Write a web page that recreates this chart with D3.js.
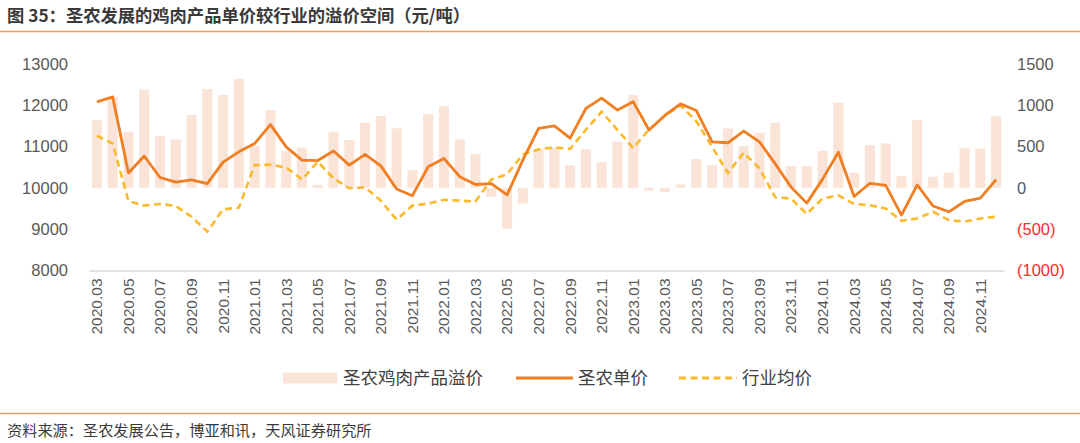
<!DOCTYPE html>
<html><head><meta charset="utf-8">
<script src="https://cdn.jsdelivr.net/npm/d3@7"></script>
<style>
body{margin:0;background:#fff;}
svg{display:block;}
</style></head>
<body>
<svg id="chart" width="1080" height="443"></svg>
<script>
const categories = ["2020.03","2020.04","2020.05","2020.06","2020.07","2020.08","2020.09","2020.10","2020.11","2020.12",
"2021.01","2021.02","2021.03","2021.04","2021.05","2021.06","2021.07","2021.08","2021.09","2021.10","2021.11","2021.12",
"2022.01","2022.02","2022.03","2022.04","2022.05","2022.06","2022.07","2022.08","2022.09","2022.10","2022.11","2022.12",
"2023.01","2023.02","2023.03","2023.04","2023.05","2023.06","2023.07","2023.08","2023.09","2023.10","2023.11","2023.12",
"2024.01","2024.02","2024.03","2024.04","2024.05","2024.06","2024.07","2024.08","2024.09","2024.10","2024.11","2024.12"];

const premium = [819,1102,678,1190,625,585,880,1194,1122,1318,508,940,440,488,36,678,577,787,870,720,214,892,
990,583,410,-109,-492,-190,464,486,274,468,313,557,1122,-36,-48,40,347,274,718,504,666,787,262,262,
448,1029,182,517,537,141,819,133,182,484,472,872];

const snPrice = [12080,12200,10360,10770,10250,10140,10190,10100,10620,10870,11070,11530,10990,10670,10660,10890,10550,10810,10530,9970,9810,10510,
10710,10270,10080,10100,9830,10670,11440,11500,11200,11920,12170,11880,12080,11400,11750,12030,11870,11110,11090,11370,11110,10580,10020,9630,
10210,10860,9790,10110,10060,9340,10070,9560,9420,9670,9750,10200];

const industryPrice = [11260,11070,9680,9570,9610,9560,9300,8940,9480,9520,10550,10560,10490,10200,10630,10230,9990,10010,9690,9230,9570,9620,
9710,9690,9670,10200,10330,10810,10930,10980,10940,11410,11840,11400,10960,11410,11740,11990,11610,10990,10360,10850,10470,9770,9740,9370,
9740,9820,9610,9580,9500,9200,9260,9420,9220,9180,9260,9300];

const leftTicks = [8000,9000,10000,11000,12000,13000];
const rightTicks = [-1000,-500,0,500,1000,1500];
const seriesNames = ["圣农鸡肉产品溢价","圣农单价","行业均价"];
const titleText = "图 35：圣农发展的鸡肉产品单价较行业的溢价空间（元/吨）";
const sourceText = "资料来源：圣农发展公告，博亚和讯，天风证券研究所";

(function(){
const svg = d3.select("#chart");
const numFont = "'Liberation Sans', Arial, sans-serif";
const cjkFont = "'Noto Sans CJK SC', 'Noto Sans', sans-serif";
const barColor = "#fae3d7", lineColor = "#f07e22", dashColor = "#fbb92c", accent = "#f4a060";

const plotTop = 63.8, plotBottom = 270.5;
const x = d3.scaleBand().domain(categories).range([89, 1004]).paddingInner(0.36).paddingOuter(0.18);
const yL = d3.scaleLinear().domain([8000, 13000]).range([plotBottom, plotTop]);
const yR = d3.scaleLinear().domain([-1000, 1500]).range([plotBottom, plotTop]);
const cx = d => x(d) + x.bandwidth()/2;

// title
svg.append("text").attr("x", 7).attr("y", 22).attr("font-family", cjkFont).attr("font-size", 17.3)
  .attr("font-weight", 700).attr("fill", "#3a3a3a").text(titleText);
svg.append("line").attr("x1", 0).attr("x2", 1080).attr("y1", 31.5).attr("y2", 31.5).attr("stroke", accent).attr("stroke-width", 1.5);
svg.append("line").attr("x1", 0).attr("x2", 1080).attr("y1", 413.5).attr("y2", 413.5).attr("stroke", accent).attr("stroke-width", 1.5);
svg.append("text").attr("x", 7).attr("y", 436).attr("font-family", cjkFont).attr("font-size", 15.2)
  .attr("fill", "#3a3a3a").text(sourceText);

// bars
svg.append("g").selectAll("rect").data(premium).join("rect")
  .attr("x", (d,i) => x(categories[i]))
  .attr("width", x.bandwidth())
  .attr("y", d => yR(Math.max(0, d)))
  .attr("height", d => Math.abs(yR(d) - yR(0)))
  .attr("fill", barColor);

// x axis
const xAxis = d3.axisBottom(x).tickValues(categories.filter((d,i) => i % 2 === 0)).tickSize(0).tickPadding(0);
const gx = svg.append("g").attr("transform", `translate(0,${plotBottom})`).call(xAxis);
gx.select(".domain").attr("stroke", "#d9d9d9").attr("stroke-width", 1.5);
gx.selectAll("text").attr("font-family", numFont).attr("font-size", 15.5).attr("fill", "#595959")
  .attr("transform", "rotate(-90)").attr("text-anchor", "end").attr("dx", "-8").attr("dy", "0.35em").attr("y", 0);

// left axis
const gl = svg.append("g").attr("transform", "translate(70,0)")
  .call(d3.axisLeft(yL).tickValues(leftTicks).tickFormat(d3.format("d")).tickSize(0).tickPadding(2));
gl.select(".domain").remove();
gl.selectAll("text").attr("font-family", numFont).attr("font-size", 16.5).attr("fill", "#595959");

// right axis
const gr = svg.append("g").attr("transform", "translate(1017,0)")
  .call(d3.axisRight(yR).tickValues(rightTicks).tickFormat(d => d < 0 ? `(${-d})` : d3.format("d")(d)).tickSize(0).tickPadding(0));
gr.select(".domain").remove();
gr.selectAll("text").attr("font-family", numFont).attr("font-size", 16.5)
  .attr("fill", d => d < 0 ? "#ff2a2a" : "#595959");

// lines
const lineGen = arr => d3.line().x((d,i) => cx(categories[i])).y(d => yL(d))(arr);
svg.append("path").attr("d", lineGen(industryPrice)).attr("fill", "none").attr("stroke", dashColor)
  .attr("stroke-width", 2.6).attr("stroke-dasharray", "7,4.5");
svg.append("path").attr("d", lineGen(snPrice)).attr("fill", "none").attr("stroke", lineColor)
  .attr("stroke-width", 2.8).attr("stroke-linejoin", "round");

// legend
const ly = 378;
const lg = svg.append("g").attr("font-family", cjkFont).attr("font-size", 17.5).attr("fill", "#404040");
lg.append("rect").attr("x", 283).attr("y", ly - 5.5).attr("width", 54).attr("height", 11).attr("fill", barColor);
lg.append("text").attr("x", 343).attr("y", ly).attr("dy", "0.35em").attr("fill", "#404040").text(seriesNames[0]);
lg.append("line").attr("x1", 516).attr("x2", 573).attr("y1", ly).attr("y2", ly).attr("stroke", lineColor).attr("stroke-width", 3);
lg.append("text").attr("x", 578).attr("y", ly).attr("dy", "0.35em").attr("fill", "#404040").text(seriesNames[1]);
lg.append("line").attr("x1", 679).attr("x2", 737).attr("y1", ly).attr("y2", ly).attr("stroke", dashColor).attr("stroke-width", 3).attr("stroke-dasharray", "7,4.5");
lg.append("text").attr("x", 742).attr("y", ly).attr("dy", "0.35em").attr("fill", "#404040").text(seriesNames[2]);
})();
</script>
</body></html>
